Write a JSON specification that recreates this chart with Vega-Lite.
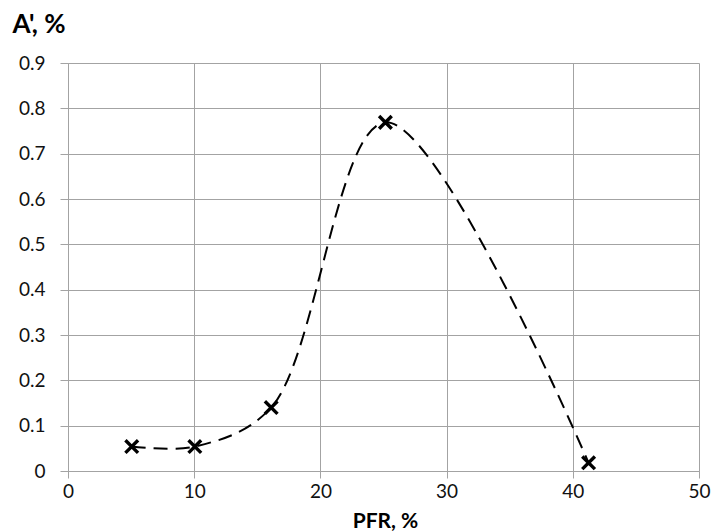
{
  "$schema": "https://vega.github.io/schema/vega-lite/v6.json",
  "autosize": {"type": "none"},
  "padding": {"left": 68, "top": 63, "right": 13, "bottom": 60},
  "width": 631,
  "height": 408,
  "background": "white",
  "data": {"values": [
    {"pfr": 5.05, "a": 0.054},
    {"pfr": 10.05, "a": 0.054},
    {"pfr": 16.1, "a": 0.14},
    {"pfr": 25.15, "a": 0.769},
    {"pfr": 41.25, "a": 0.018}
  ]},
  "config": {
    "view": {"stroke": null},
    "font": "Lato",
    "axis": {
      "labelFont": "Lato",
      "titleFont": "Lato",
      "labelFontSize": 19,
      "labelColor": "#111",
      "gridColor": "#a3a3a3",
      "gridWidth": 1,
      "domainColor": "#a3a3a3",
      "tickColor": "#a3a3a3",
      "titleColor": "#000",
      "titleFontWeight": "bold"
    }
  },
  "encoding": {
    "x": {
      "field": "pfr", "type": "quantitative",
      "scale": {"domain": [0, 50], "nice": false, "zero": false},
      "axis": {
        "values": [0, 10, 20, 30, 40, 50],
        "tickSize": 7, "labelPadding": 4,
        "title": "PFR, %", "titleFontSize": 21,
        "titleAngle": 0, "titleX": 317, "titleY": 50,
        "titleBaseline": "middle", "titleAlign": "center", "titleAnchor": null,
        "labelFlush": false
      }
    },
    "y": {
      "field": "a", "type": "quantitative",
      "scale": {"domain": [0, 0.9], "nice": false},
      "axis": {
        "values": [0, 0.1, 0.2, 0.3, 0.4, 0.5, 0.6, 0.7, 0.8, 0.9],
        "labelExpr": "datum.value == 0 ? '0' : format(datum.value, '.1f')",
        "tickSize": 8, "labelPadding": 15,
        "title": "A', %", "titleFontSize": 26,
        "titleAngle": 0, "titleX": -56, "titleY": -39,
        "titleBaseline": "middle", "titleAlign": "left", "titleAnchor": null,
        "labelFlush": false
      }
    }
  },
  "layer": [
    {
      "mark": {"type": "line", "interpolate": "catmull-rom", "color": "black", "strokeWidth": 2, "strokeDash": [14, 8]}
    },
    {
      "mark": {"type": "point", "shape": "M-1,-1L1,1M-1,1L1,-1", "filled": false, "stroke": "black", "strokeWidth": 3.4, "size": 160, "opacity": 1}
    }
  ]
}
